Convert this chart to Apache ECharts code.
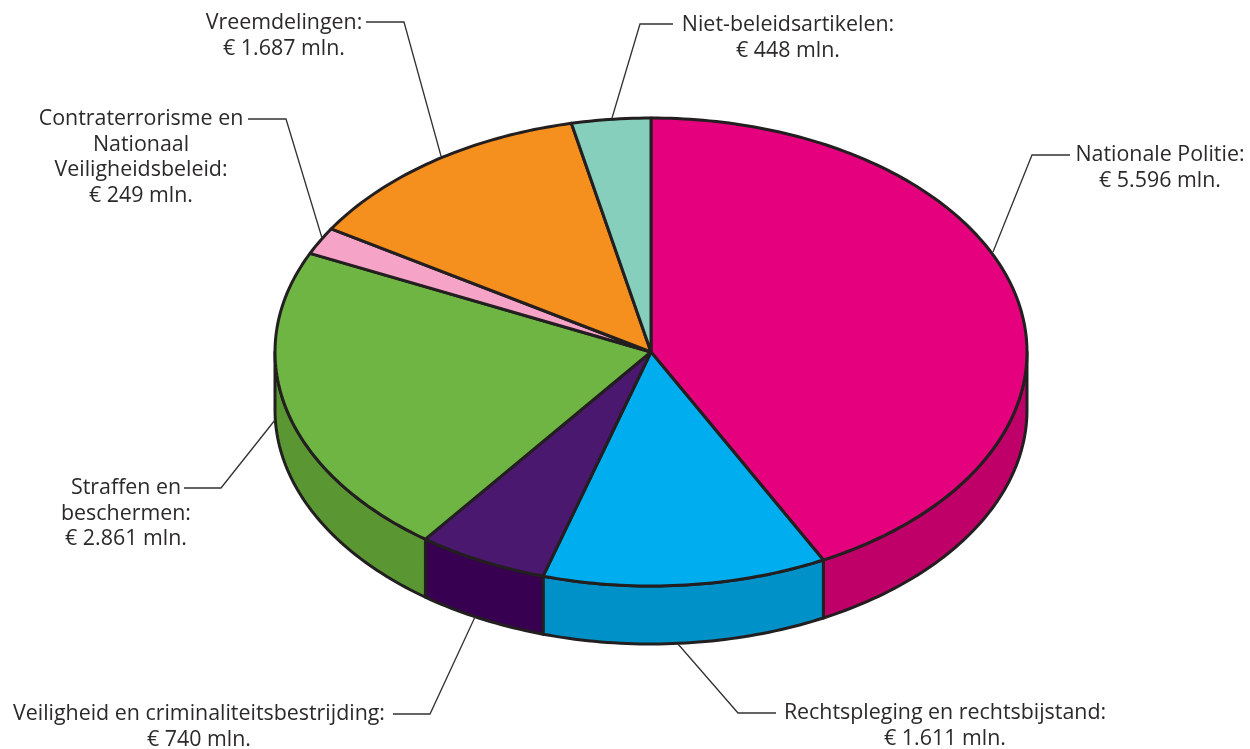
<!DOCTYPE html>
<html>
<head>
<meta charset="utf-8">
<title>Begroting</title>
<style>
  html, body { margin: 0; padding: 0; background: #fff; }
  #container { width: 1250px; height: 749px; }
</style>
<script src="https://cdn.jsdelivr.net/npm/echarts@6/dist/echarts.min.js"></script>
</head>
<body>
<div id="container"></div>
<script>
// budget in mln euro, clockwise from 12 o'clock
const sliceNames = [
  'Nationale Politie:',
  'Rechtspleging en rechtsbijstand:',
  'Veiligheid en criminaliteitsbestrijding:',
  'Straffen en\nbeschermen:',
  'Contraterrorisme en\nNationaal\nVeiligheidsbeleid:',
  'Vreemdelingen:',
  'Niet-beleidsartikelen:'
];
const sliceValues = [5596, 1611, 740, 2861, 249, 1687, 448];
const valueLabels = ['5.596', '1.611', '740', '2.861', '249', '1.687', '448'];

const topColors  = ['#e5007d', '#00aeef', '#4a186e', '#6eb543', '#f5a3c7', '#f58f1e', '#85cfbc'];
const sideColors = ['#be0068', '#0091c8', '#380050', '#5a9733', '#f5a3c7', '#f58f1e', '#85cfbc'];

// label centre (x, y of first line) and leader polyline, in pixels
const labelPos = [
  [1160, 155], [945, 713], [199, 714], [126, 488], [141, 119], [284, 23], [788, 25]
];
const leaderPaths = [
  [[1070, 155], [1032, 155], [993, 252]],
  [[776, 713], [738, 713], [678, 644]],
  [[393, 714], [430, 714], [475, 617]],
  [[184, 488], [221, 488], [275, 420]],
  [[248, 119], [286, 119], [322, 238]],
  [[366, 22], [404, 22], [441, 156]],
  [[673, 24], [640, 24], [612, 118]]
];

// pie ellipse
const cx = 651, cy = 352, rx = 376, ry = 234, depth = 58;
const lineColor = '#231f20';
const fontName = '"Open Sans", sans-serif';

const total = sliceValues.reduce((a, b) => a + b, 0);

function rimPoint(deg, dy) {
  const t = deg * Math.PI / 180;
  return [cx + rx * Math.sin(t), cy - ry * Math.cos(t) + (dy || 0)];
}

function arcPoints(from, to, dy) {
  const pts = [];
  const n = Math.max(2, Math.ceil(Math.abs(to - from)));
  for (let i = 0; i <= n; i++) {
    pts.push(rimPoint(from + (to - from) * i / n, dy));
  }
  return pts;
}

function renderSlice(params, api) {
  const i = params.dataIndex;
  let before = 0;
  for (let k = 0; k < i; k++) before += sliceValues[k];
  const a0 = before / total * 360;
  const a1 = (before + api.value(0)) / total * 360;
  const children = [];

  // wall, only the part facing the viewer (90..270 deg)
  const w0 = Math.max(a0, 90), w1 = Math.min(a1, 270);
  if (w1 > w0) {
    children.push({
      type: 'polygon',
      z2: 1,
      shape: { points: arcPoints(w0, w1, 0).concat(arcPoints(w1, w0, depth)) },
      style: { fill: sideColors[i], stroke: lineColor, lineWidth: 3, lineJoin: 'round' }
    });
  }

  children.push({
    type: 'polygon',
    z2: 2,
    shape: { points: [[cx, cy]].concat(arcPoints(a0, a1, 0)) },
    style: { fill: topColors[i], stroke: lineColor, lineWidth: 3, lineJoin: 'round' }
  });

  children.push({
    type: 'polyline',
    z2: 3,
    shape: { points: leaderPaths[i] },
    style: { fill: null, stroke: '#333132', lineWidth: 1.3 }
  });

  children.push({
    type: 'text',
    z2: 4,
    x: labelPos[i][0],
    y: labelPos[i][1] - 12.75,
    style: {
      text: sliceNames[i] + '\n€ ' + valueLabels[i] + ' mln.',
      fill: '#2b2a29',
      font: '21.4px ' + fontName,
      lineHeight: 25.5,
      align: 'center',
      verticalAlign: 'top'
    }
  });

  return { type: 'group', children: children };
}

const chrt = echarts.init(document.getElementById('container'), null, { renderer: 'canvas' });

chrt.setOption({
  animation: false,
  backgroundColor: '#ffffff',
  series: [
    {
      type: 'custom',
      coordinateSystem: 'none',
      renderItem: renderSlice,
      data: sliceValues.map((v, i) => ({ name: sliceNames[i], value: [v] }))
    }
  ]
});
</script>
</body>
</html>
